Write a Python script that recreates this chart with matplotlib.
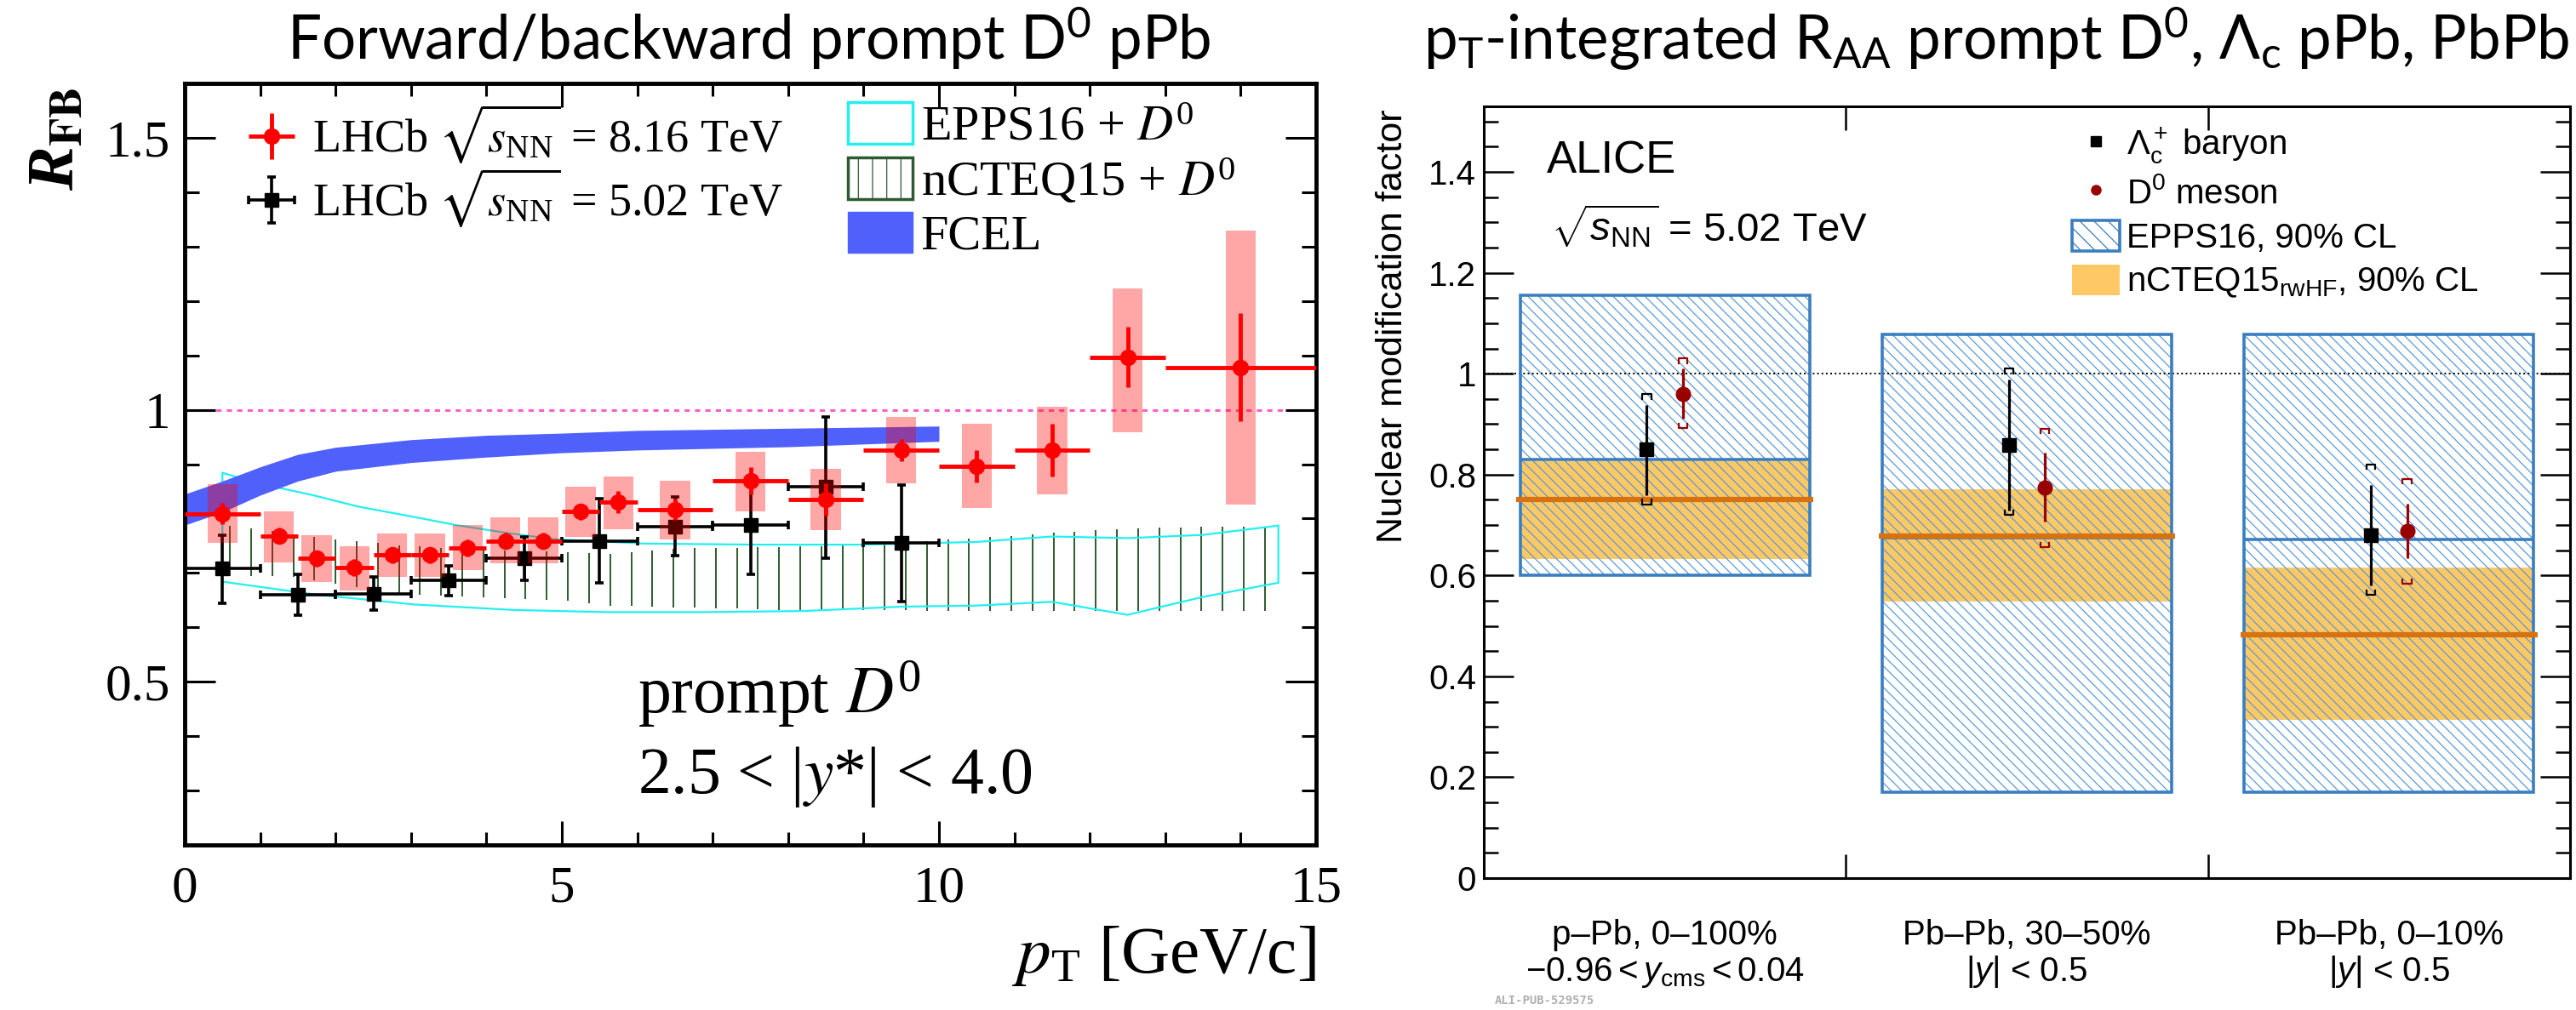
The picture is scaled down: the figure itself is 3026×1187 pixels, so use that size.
import numpy as np
import matplotlib
matplotlib.use('Agg')
import matplotlib.pyplot as plt
from matplotlib.patches import Patch, Rectangle
from matplotlib.lines import Line2D
from matplotlib.collections import LineCollection
from matplotlib.ticker import MultipleLocator
import matplotlib.transforms as mtransforms
from matplotlib import font_manager
from matplotlib.ft2font import FT2Font

plt.rcParams['mathtext.fontset'] = 'custom'
plt.rcParams['mathtext.rm'] = 'Liberation Sans'
plt.rcParams['mathtext.it'] = 'Liberation Sans:italic'
plt.rcParams['mathtext.bf'] = 'Liberation Sans:bold'
plt.rcParams['mathtext.default'] = 'regular'
plt.rcParams['hatch.linewidth'] = 0.9

# ---------------- Left panel data (LHCb R_FB) ----------------
red_pt = [0.5, 1.25, 1.75, 2.25, 2.75, 3.25, 3.75, 4.25, 4.75, 5.25, 5.75,
          6.5, 7.5, 8.5, 9.5, 10.5, 11.5, 12.5, 14.0]
red_xerr = [0.5, 0.25, 0.25, 0.25, 0.25, 0.25, 0.25, 0.25, 0.25, 0.25, 0.25,
            0.5, 0.5, 0.5, 0.5, 0.5, 0.5, 0.5, 1.0]
red_val = [0.809, 0.768, 0.727, 0.710, 0.733, 0.733, 0.746, 0.759, 0.759, 0.813, 0.830,
           0.817, 0.869, 0.835, 0.926, 0.896, 0.926, 1.097, 1.078]
red_stat = [0.02, 0.015, 0.015, 0.015, 0.015, 0.015, 0.015, 0.015, 0.015, 0.015, 0.02,
            0.02, 0.025, 0.03, 0.02, 0.03, 0.048, 0.056, 0.099]
red_syst_lo = [0.755, 0.720, 0.684, 0.668, 0.692, 0.692, 0.705, 0.718, 0.718, 0.767, 0.781,
               0.762, 0.813, 0.779, 0.865, 0.819, 0.845, 0.958, 0.825]
red_syst_hi = [0.864, 0.813, 0.770, 0.749, 0.773, 0.772, 0.788, 0.803, 0.803, 0.859, 0.878,
               0.869, 0.923, 0.892, 0.987, 0.974, 1.006, 1.223, 1.330]

blk_pt = [0.5, 1.5, 2.5, 3.5, 4.5, 5.5, 6.5, 7.5, 8.5, 9.5]
blk_xerr = [0.5] * 10
blk_val = [0.708, 0.660, 0.662, 0.687, 0.727, 0.759, 0.785, 0.788, 0.858, 0.755]
blk_lo = [0.644, 0.623, 0.632, 0.658, 0.687, 0.682, 0.732, 0.698, 0.727, 0.647]
blk_hi = [0.770, 0.698, 0.693, 0.713, 0.766, 0.837, 0.840, 0.871, 0.987, 0.862]

fcel_pt = [0, 0.5, 1, 1.5, 2, 3, 4, 5, 6, 8, 10]
fcel_lo = [0.788, 0.812, 0.843, 0.869, 0.887, 0.903, 0.913, 0.921, 0.926, 0.932, 0.942]
fcel_hi = [0.845, 0.869, 0.895, 0.918, 0.931, 0.945, 0.953, 0.957, 0.962, 0.966, 0.970]

eppsL_up_pt = [0.5, 1.0, 1.7, 2.3, 3.0, 3.6, 4.3, 4.9, 6.1, 7.6, 9.0, 10.5, 11.5, 12.5, 13.5, 14.5]
eppsL_up = [0.884, 0.864, 0.843, 0.822, 0.804, 0.788, 0.773, 0.762, 0.754, 0.752, 0.752,
            0.757, 0.767, 0.764, 0.770, 0.787]
eppsL_lo_pt = [0.5, 1.75, 3.05, 4.35, 5.6, 6.9, 8.2, 9.5, 10.5, 11.5, 12.5, 13.5, 14.5]
eppsL_lo = [0.684, 0.660, 0.642, 0.632, 0.628, 0.628, 0.630, 0.638, 0.640, 0.647, 0.623, 0.656, 0.682]

ncteq_pt = [0.6, 1.0, 1.5, 2.0, 3.0, 4.0, 5.0, 5.6, 6.5, 8.0, 9.0, 10.5, 11.5, 12.5, 13.5, 14.4]
ncteq_hi = [0.786, 0.780, 0.770, 0.762, 0.749, 0.743, 0.738, 0.735, 0.745, 0.748, 0.752,
            0.764, 0.774, 0.782, 0.785, 0.785]
ncteq_lo = [0.695, 0.695, 0.692, 0.680, 0.660, 0.655, 0.650, 0.640, 0.637, 0.632, 0.632,
            0.630, 0.630, 0.630, 0.630, 0.630]

left_xticks = [0, 5, 10, 15]
left_xticklabels = ['0', '5', '10', '15']
left_yticks = [0.5, 1.0, 1.5]
left_yticklabels = ['0.5', '1', '1.5']

# ---------------- Right panel data (ALICE) ----------------
categories_l1 = ['p\u2013Pb, 0\u2013100%', 'Pb\u2013Pb, 30\u201350%', 'Pb\u2013Pb, 0\u201310%']
categories_l2 = [r'$-0.96 < \mathit{y}_{cms} < 0.04$', r'|$\mathit{y}$| < 0.5', r'|$\mathit{y}$| < 0.5']
epps_low = [0.60, 0.17, 0.17]
epps_high = [1.155, 1.078, 1.078]
epps_central = [0.830, 0.674, 0.671]
ncteqR_low = [0.632, 0.549, 0.314]
ncteqR_high = [0.827, 0.771, 0.615]
ncteqR_central = [0.750, 0.678, 0.483]
lc_val = [0.850, 0.859, 0.680]
lc_stat_lo = [0.759, 0.728, 0.580]
lc_stat_hi = [0.938, 0.989, 0.779]
lc_syst_lo = [0.741, 0.720, 0.561]
lc_syst_hi = [0.959, 1.010, 0.820]
d0_val = [0.959, 0.774, 0.689]
d0_stat_lo = [0.911, 0.707, 0.635]
d0_stat_hi = [1.010, 0.843, 0.743]
d0_syst_lo = [0.892, 0.656, 0.583]
d0_syst_hi = [1.030, 0.891, 0.791]
right_yticks = [0, 0.2, 0.4, 0.6, 0.8, 1.0, 1.2, 1.4]
right_yticklabels = ['0', '0.2', '0.4', '0.6', '0.8', '1', '1.2', '1.4']

W, H = 3026, 1187
fig = plt.figure(figsize=(W / 100, H / 100), dpi=100)

# title font choice (needs Greek Lambda)
def has_glyph(family, ch):
    try:
        path = font_manager.findfont(font_manager.FontProperties(family=family), fallback_to_default=False)
        return ord(ch) in FT2Font(path).get_charmap()
    except Exception:
        return False
title_font = 'Lato' if has_glyph('Lato', '\u039b') else 'Noto Sans'

fig.text(880 / W, 1 - 70 / H, 'Forward/backward prompt D$^0$ pPb', ha='center', va='baseline',
         fontsize=51, family='Lato', color='black')
fig.text(2345 / W, 1 - 70 / H, 'p$_T$-integrated R$_{AA}$ prompt D$^0$, \u039b$_c$ pPb, PbPb',
         ha='center', va='baseline', fontsize=51, family=title_font, color='black')

# ================= LEFT PANEL =================
axL = fig.add_axes([217 / W, 1 - 993 / H, 1329 / W, 895 / H])
axL.set_xlim(0, 15)
axL.set_ylim(0.2, 1.6)

# nCTEQ15 hatched band (vertical hatch lines)
hx = np.arange(ncteq_pt[0], ncteq_pt[-1] + 0.01, 0.28)
axL.vlines(hx, np.interp(hx, ncteq_pt, ncteq_lo), np.interp(hx, ncteq_pt, ncteq_hi),
           color='#2f5a2f', lw=1.4, zorder=1)
# EPPS16 outline
axL.fill(np.concatenate([eppsL_up_pt, eppsL_lo_pt[::-1]]),
         np.concatenate([eppsL_up, eppsL_lo[::-1]]),
         facecolor='none', edgecolor='#22f0f0', lw=1.6, zorder=1.2)
axL.axhline(1.0, color='#ff5fc8', lw=2.2, dashes=(2, 2), zorder=1.5)
axL.fill_between(fcel_pt, fcel_lo, fcel_hi, color='#5060fb', lw=0, zorder=2)

blk_eb = axL.errorbar(blk_pt, blk_val, xerr=blk_xerr,
                      yerr=[np.array(blk_val) - np.array(blk_lo), np.array(blk_hi) - np.array(blk_val)],
                      fmt='s', color='black', ms=11, elinewidth=2.6, capsize=3.5, capthick=2.6, zorder=3)
axL.bar(red_pt, np.array(red_syst_hi) - np.array(red_syst_lo), bottom=red_syst_lo, width=0.4,
        color='red', alpha=0.35, lw=0, zorder=4)
red_eb = axL.errorbar(red_pt, red_val, xerr=red_xerr, yerr=red_stat, fmt='o', color='red',
                      ms=13, elinewidth=3.5, capsize=0, zorder=5)

axL.set_xticks(left_xticks, labels=left_xticklabels)
axL.set_yticks(left_yticks, labels=left_yticklabels)
axL.xaxis.set_minor_locator(MultipleLocator(1))
axL.yaxis.set_minor_locator(MultipleLocator(0.1))
axL.tick_params(which='both', direction='in', top=True, right=True, width=2.2,
                labelfontfamily='Liberation Serif', labelsize=44)
axL.tick_params(axis='x', which='major', length=20, pad=17)
axL.tick_params(axis='x', which='minor', length=11)
axL.tick_params(axis='y', which='major', length=26, pad=12)
axL.tick_params(axis='y', which='minor', length=12)
for s in axL.spines.values():
    s.set_linewidth(3.5)

axL.text(-0.112, 0.9955, r'$R_{\mathbf{FB}}$', transform=axL.transAxes, rotation=90,
         ha='center', va='top', fontsize=56, family='Liberation Serif', weight='bold',
         style='italic', math_fontfamily='stix')
axL.text(1.0, (993 - 1143) / 895, r'$\mathit{p}_{T}$ [GeV/c]', transform=axL.transAxes,
         ha='right', va='baseline', fontsize=57, family='Liberation Serif', math_fontfamily='stix')
axL.text(6.0, 0.443, r'prompt $\mathit{D}^0$', ha='left', va='baseline', fontsize=56,
         family='Liberation Serif', math_fontfamily='stix')
axL.text(6.0, 0.296, r'2.5 < |$\mathit{y}$*| < 4.0', ha='left', va='baseline', fontsize=56,
         family='Liberation Serif', math_fontfamily='stix')

legL1 = axL.legend([red_eb, blk_eb],
                   [r'LHCb $\sqrt{\mathit{s}_{NN}}$ = 8.16 TeV', r'LHCb $\sqrt{\mathit{s}_{NN}}$ = 5.02 TeV'],
                   loc='upper left', bbox_to_anchor=(0.05, 0.975), frameon=False,
                   prop={'family': 'Liberation Serif', 'size': 39}, handlelength=1.3,
                   handletextpad=0.25, labelspacing=0.02, borderpad=0, borderaxespad=0)
for t in legL1.get_texts():
    t.set_math_fontfamily('stix')
axL.add_artist(legL1)
legL2 = axL.legend([Patch(facecolor='none', edgecolor='#22f0f0', lw=2.5),
                    Patch(facecolor='none', edgecolor='#2f5a2f', hatch='|', lw=2.5),
                    Patch(facecolor='#5060fb', edgecolor='#5060fb', lw=1)],
                   [r'EPPS16 + $\mathit{D}^0$', r'nCTEQ15 + $\mathit{D}^0$', 'FCEL'],
                   loc='upper left', bbox_to_anchor=(0.586, 0.975), frameon=False,
                   prop={'family': 'Liberation Serif', 'size': 42}, handlelength=1.3,
                   handleheight=0.9, handletextpad=0.17, labelspacing=0.12, borderpad=0,
                   borderaxespad=0)
for t in legL2.get_texts():
    t.set_math_fontfamily('stix')

# ================= RIGHT PANEL =================
axR_px = (1276, 907)
axR = fig.add_axes([1743 / W, 1 - 1032 / H, axR_px[0] / W, axR_px[1] / H])
axR.set_xlim(0, 3)
axR.set_ylim(0, 1.53)
xc = np.arange(len(categories_l1)) + 0.5
bw = 0.8
axR.bar(xc, np.array(ncteqR_high) - np.array(ncteqR_low), bottom=ncteqR_low, width=bw,
        color='#fec865', lw=0, zorder=1)

# fine 45-degree hatch inside EPPS16 boxes, clipped to each box
px_per_x = axR_px[0] / 3.0
px_per_y = axR_px[1] / 1.53
k = px_per_x / px_per_y          # data-y drop per data-x for a 45 deg line
step_y = 12.5 / px_per_y         # vertical spacing of the hatch lines
for xi, lo, hi in zip(xc, epps_low, epps_high):
    x0, x1 = xi - bw / 2, xi + bw / 2
    clip = Rectangle((x0, lo), bw, hi - lo, facecolor='none', edgecolor='none')
    axR.add_patch(clip)
    cs = np.arange(lo, hi + k * bw + step_y, step_y)
    segs = [[(x0, c), (x1, c - k * bw)] for c in cs]
    lcoll = LineCollection(segs, colors='#5a9ad6', linewidths=0.9, zorder=2)
    axR.add_collection(lcoll)
    lcoll.set_clip_path(clip)

axR.axhline(1.0, color='black', ls=':', lw=1.4, zorder=2.5)
axR.bar(xc, np.array(epps_high) - np.array(epps_low), bottom=epps_low, width=bw,
        fill=False, edgecolor='#3a7ebf', lw=2.6, zorder=3)
axR.hlines(epps_central, xc - bw / 2, xc + bw / 2, color='#3a7ebf', lw=2.6, zorder=3)
axR.hlines(ncteqR_central, xc - bw / 2 - 0.01, xc + bw / 2 + 0.01, color='#d8720e', lw=4.5, zorder=3.5)

def brackets(ax, x, lo, hi, color, w=0.012, h=0.009):
    xs, ys = [], []
    for xi, l, u in zip(x, lo, hi):
        xs += [xi - w, xi - w, xi + w, xi + w, np.nan, xi - w, xi - w, xi + w, xi + w, np.nan]
        ys += [u - h, u, u, u - h, np.nan, l + h, l, l, l + h, np.nan]
    ax.plot(xs, ys, color=color, lw=1.6, zorder=4.5)

x_lc = xc - 0.05
x_d0 = xc + 0.05
brackets(axR, x_lc, lc_syst_lo, lc_syst_hi, 'black')
brackets(axR, x_d0, d0_syst_lo, d0_syst_hi, '#990000')
axR.errorbar(x_lc, lc_val, yerr=[np.array(lc_val) - np.array(lc_stat_lo), np.array(lc_stat_hi) - np.array(lc_val)],
             fmt='s', color='black', ms=12, elinewidth=2.3, capsize=0, zorder=5)
axR.errorbar(x_d0, d0_val, yerr=[np.array(d0_val) - np.array(d0_stat_lo), np.array(d0_stat_hi) - np.array(d0_val)],
             fmt='o', color='#990000', ms=12, elinewidth=2.3, capsize=0, zorder=5)

axR.set_yticks(right_yticks, labels=right_yticklabels)
axR.yaxis.set_minor_locator(MultipleLocator(0.05))
axR.set_xticks([1, 2], labels=['', ''])
axR.tick_params(which='both', direction='in', top=True, right=True, width=1.8,
                labelfontfamily='Liberation Sans', labelsize=29)
axR.tick_params(axis='y', which='major', length=25, pad=6.5)
axR.tick_params(axis='y', which='minor', length=12)
axR.tick_params(axis='x', which='major', length=20)
for s in axR.spines.values():
    s.set_linewidth(2.2)

trans = mtransforms.blended_transform_factory(axR.transData, axR.transAxes)
for xi, l1, l2 in zip(xc, categories_l1, categories_l2):
    axR.text(xi, (1032 - 1110) / 907, l1, transform=trans, ha='center', va='baseline',
             fontsize=29, family='Liberation Sans')
    axR.text(xi, (1032 - 1153) / 907, l2, transform=trans, ha='center', va='baseline',
             fontsize=29, family='Liberation Sans')

axR.text(-0.084, 0.9956, 'Nuclear modification factor', transform=axR.transAxes, rotation=90,
         ha='center', va='top', fontsize=31, family='Liberation Sans')
axR.text(0.058, 1.398 / 1.53, 'ALICE', transform=axR.transAxes, ha='left', va='baseline',
         fontsize=38, family='Liberation Sans')
axR.text(0.062, 1.263 / 1.53, r'$\sqrt{\mathit{s}_{NN}}$ = 5.02 TeV', transform=axR.transAxes,
         ha='left', va='baseline', fontsize=34, family='Liberation Sans')

legR = axR.legend([Line2D([], [], marker='s', color='black', ls='none', ms=8),
                   Line2D([], [], marker='o', color='#990000', ls='none', ms=8),
                   Patch(facecolor='none', edgecolor='#3a7ebf', hatch='\\\\', lw=2.6),
                   Patch(facecolor='#fec865', lw=0)],
                  ['\u039b$_c^+$ baryon', 'D$^0$ meson', 'EPPS16, 90% CL', 'nCTEQ15$_{rwHF}$, 90% CL'],
                  loc='upper left', bbox_to_anchor=(0.5415, 0.975), frameon=False,
                  prop={'family': 'Liberation Sans', 'size': 29}, handlelength=1.4,
                  handleheight=1.0, handletextpad=0.2, labelspacing=0.3, borderpad=0,
                  borderaxespad=0)

fig.text(1756 / W, 0.003, 'ALI-PUB-529575', color='#b0b0b0', fontsize=10,
         family='DejaVu Sans Mono', weight='bold', ha='left', va='bottom')

fig.savefig('out.png', dpi=100)
